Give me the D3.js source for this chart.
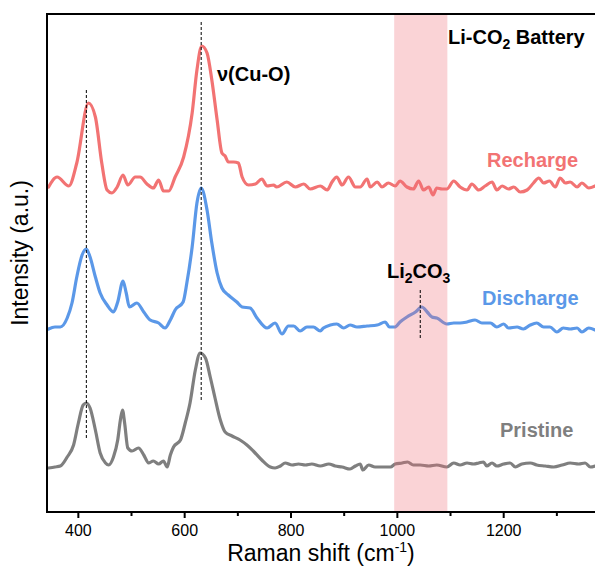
<!DOCTYPE html>
<html>
<head>
<meta charset="utf-8">
<script src="https://cdn.jsdelivr.net/npm/d3@7"></script>
<style>
  body { margin: 0; background: #fff; }
  svg { display: block; font-family: "Liberation Sans", Arial, sans-serif; }
</style>
</head>
<body>
<svg id="chart" width="595" height="570"></svg>
<script>
// Raman spectra of the Cu-O cathode (shift in cm^-1, intensity in a.u. above each trace's baseline)
const recharge = [[345,-1],[361,9],[383,0],[398,23],[420,83],[433,69],[445,23],[455,-4],[464,-7],[474,-1],[485,11],[494,1],[508,9],[517,9],[530,2],[542,-2],[552,6],[561,-5],[571,-5],[583,9],[599,29],[615,73],[624,116],[633,140],[643,133],[652,106],[662,66],[671,33],[677,30],[683,24],[693,24],[702,23],[709,9],[721,1],[734,2],[746,7],[756,0],[768,1],[774,-1],[793,4],[809,-1],[825,2],[837,-3],[856,0],[869,-4],[878,4],[887,9],[897,1],[909,9],[922,-1],[931,-1],[944,7],[950,-1],[963,4],[972,-1],[984,3],[997,0],[1006,5],[1019,-1],[1031,-3],[1041,5],[1050,-4],[1060,-1],[1068,-9],[1075,-2],[1085,-3],[1094,-3],[1107,5],[1119,-1],[1132,-4],[1141,2],[1154,-4],[1166,0],[1179,4],[1188,-4],[1198,0],[1210,-3],[1220,-1],[1232,-6],[1245,-4],[1257,3],[1267,8],[1276,3],[1287,5],[1298,-1],[1307,8],[1317,3],[1326,4],[1339,-1],[1348,3],[1361,-2],[1373,0]];

const discharge = [[345,-1],[357,1],[367,1],[380,10],[389,25],[398,51],[408,73],[416,79],[423,71],[433,51],[442,35],[455,23],[467,16],[475,26],[485,47],[491,35],[497,21],[511,25],[524,16],[536,8],[552,5],[564,0],[574,8],[583,18],[598,26],[605,45],[615,81],[624,125],[632,140],[643,118],[652,85],[662,55],[671,40],[683,33],[699,26],[709,21],[724,20],[737,10],[756,0],[771,5],[784,-6],[796,2],[806,2],[818,-3],[831,1],[843,1],[856,-3],[862,0],[875,3],[887,4],[900,0],[912,3],[925,1],[944,2],[963,3],[978,6],[986,1],[996,1],[1006,6],[1019,11],[1035,16],[1047,21],[1057,16],[1066,11],[1075,10],[1094,4],[1107,5],[1119,5],[1132,6],[1147,8],[1160,5],[1176,5],[1188,1],[1201,4],[1210,0],[1226,1],[1238,-1],[1251,3],[1263,5],[1276,1],[1288,1],[1301,-4],[1313,0],[1326,-1],[1339,0],[1348,-4],[1361,0],[1373,-2]];

const pristine = [[345,-2],[357,-1],[367,0],[380,9],[392,21],[401,43],[410,61],[416,63],[423,58],[433,36],[442,13],[452,3],[458,1],[467,9],[475,26],[480,46],[484,56],[488,43],[494,18],[502,15],[514,18],[524,11],[533,3],[542,5],[552,2],[561,5],[568,-1],[574,11],[580,19],[593,26],[602,43],[611,63],[621,96],[630,113],[640,108],[649,89],[658,68],[668,46],[677,34],[690,30],[705,26],[718,21],[730,15],[746,6],[762,-1],[771,-2],[781,0],[790,3],[803,1],[815,2],[828,1],[840,2],[856,0],[872,2],[884,0],[897,-1],[912,-3],[922,0],[931,2],[936,-4],[947,1],[959,-1],[975,-1],[988,-1],[997,2],[1010,3],[1020,4],[1031,1],[1044,1],[1060,0],[1075,1],[1094,-1],[1107,3],[1119,1],[1132,3],[1144,2],[1154,3],[1163,4],[1169,0],[1179,3],[1188,0],[1201,2],[1213,3],[1223,-1],[1235,2],[1251,3],[1263,1],[1279,0],[1295,-1],[1311,1],[1326,3],[1342,2],[1354,3],[1364,-1],[1373,0]];

// Vertical stacking offsets of each trace
const seriesNames = ["Recharge", "Discharge", "Pristine"];
const seriesOffsets = [326, 184, 46];
const seriesColors = ["#F27373", "#5B98E8", "#7F7F7F"];
const seriesData = [recharge, discharge, pristine];

const majorTicks = [400, 600, 800, 1000, 1200];
const minorTicks = [500, 700, 900, 1100, 1300];

// Li2CO3 window and peak guide lines [shift, intensity from, intensity to]
const li2co3Band = [995, 1095];
const peakGuides = [[416, 74, 422], [632, 112, 492], [1044, 174, 222]];

const svg = d3.select("#chart");
const margin = { left: 47, top: 14, bottom: 512 };

const x = d3.scaleLinear().domain([342, 1380]).range([47, 598.9]);
const y = d3.scaleLinear().domain([0, 498]).range([margin.bottom, margin.top]);

// Spectra
const line = d3.line()
  .x(d => x(d[0]))
  .y(d => y(d[1]))
  .curve(d3.curveMonotoneX);

seriesData.forEach((data, i) => {
  svg.append("path")
    .datum(data.map(d => [d[0], d[1] + seriesOffsets[i]]))
    .attr("d", line)
    .attr("fill", "none")
    .attr("stroke", seriesColors[i])
    .attr("stroke-width", 3.2)
    .attr("stroke-linejoin", "round")
    .attr("stroke-linecap", "round");
});

// Li2CO3 highlight band (translucent, over the traces)
svg.append("rect")
  .attr("x", x(li2co3Band[0]))
  .attr("y", margin.top)
  .attr("width", x(li2co3Band[1]) - x(li2co3Band[0]))
  .attr("height", margin.bottom - margin.top)
  .attr("fill", "#F06E78")
  .attr("fill-opacity", 0.3);

// Dashed guide lines at peak positions
svg.selectAll("line.guide")
  .data(peakGuides)
  .join("line")
  .attr("class", "guide")
  .attr("x1", d => x(d[0])).attr("x2", d => x(d[0]))
  .attr("y1", d => y(d[1])).attr("y2", d => y(d[2]))
  .attr("stroke", "#000")
  .attr("stroke-width", 1)
  .attr("stroke-dasharray", "3,2");

// Frame
svg.append("rect")
  .attr("x", margin.left)
  .attr("y", margin.top)
  .attr("width", 600 - margin.left)
  .attr("height", margin.bottom - margin.top)
  .attr("fill", "none")
  .attr("stroke", "#000")
  .attr("stroke-width", 2);

// X axis: major ticks with labels, minor ticks without
const gMajor = svg.append("g")
  .attr("transform", `translate(0,${margin.bottom})`)
  .call(d3.axisBottom(x).tickValues(majorTicks).tickSize(6).tickPadding(7).tickFormat(d3.format("d")));
gMajor.select(".domain").remove();
gMajor.selectAll("line").attr("stroke-width", 2);
gMajor.selectAll("text").attr("font-size", 16).attr("font-family", "Liberation Sans, Arial, sans-serif").attr("fill", "#000");

const gMinor = svg.append("g")
  .attr("transform", `translate(0,${margin.bottom})`)
  .call(d3.axisBottom(x).tickValues(minorTicks).tickSize(4).tickFormat(""));
gMinor.select(".domain").remove();
gMinor.selectAll("line").attr("stroke-width", 2);

// Axis titles
const xTitle = svg.append("text")
  .attr("x", 321).attr("y", 561)
  .attr("text-anchor", "middle")
  .attr("font-size", 23);
xTitle.append("tspan").text("Raman shift (cm");
xTitle.append("tspan").attr("dy", -9).attr("font-size", 14).text("-1");
xTitle.append("tspan").attr("dy", 9).text(")");

svg.append("text")
  .attr("transform", "translate(28,253) rotate(-90)")
  .attr("text-anchor", "middle")
  .attr("font-size", 23)
  .text("Intensity (a.u.)");

// Series labels
const labelPos = [[487, 167], [482, 305], [500, 437]];
seriesNames.forEach((name, i) => {
  svg.append("text")
    .attr("x", labelPos[i][0]).attr("y", labelPos[i][1])
    .attr("font-size", 20).attr("font-weight", "bold")
    .attr("fill", seriesColors[i])
    .text(name);
});

// Annotations
const battery = svg.append("text")
  .attr("x", 448).attr("y", 44)
  .attr("font-size", 20).attr("font-weight", "bold");
battery.append("tspan").text("Li-CO");
battery.append("tspan").attr("dy", 5).attr("font-size", 14).text("2");
battery.append("tspan").attr("dy", -5).text(" Battery");

svg.append("text")
  .attr("x", 217).attr("y", 81)
  .attr("font-size", 20).attr("font-weight", "bold")
  .text("ν(Cu-O)");

const li = svg.append("text")
  .attr("x", 387).attr("y", 278)
  .attr("font-size", 20).attr("font-weight", "bold");
li.append("tspan").text("Li");
li.append("tspan").attr("dy", 5).attr("font-size", 14).text("2");
li.append("tspan").attr("dy", -5).text("CO");
li.append("tspan").attr("dy", 5).attr("font-size", 14).text("3");
</script>
</body>
</html>
